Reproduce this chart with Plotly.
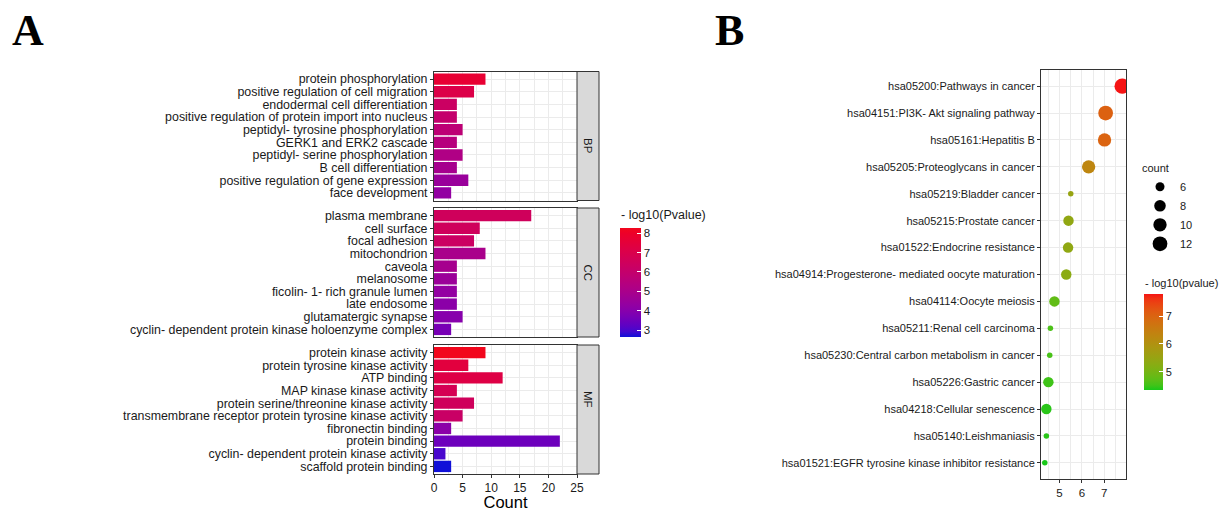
import math
import plotly.graph_objects as go

# ---------------- Panel A data (GO enrichment) ----------------
bp_terms = ["protein phosphorylation", "positive regulation of cell migration",
            "endodermal cell differentiation", "positive regulation of protein import into nucleus",
            "peptidyl- tyrosine phosphorylation", "GERK1 and ERK2 cascade",
            "peptidyl- serine phosphorylation", "B cell differentiation",
            "positive regulation of gene expression", "face development"]
bp_count = [9, 7, 4, 4, 5, 4, 5, 4, 6, 3]
bp_logp = [7.7, 7.1, 6.3, 6.0, 5.7, 5.45, 5.2, 4.9, 4.5, 4.3]

cc_terms = ["plasma membrane", "cell surface", "focal adhesion", "mitochondrion", "caveola",
            "melanosome", "ficolin- 1- rich granule lumen", "late endosome",
            "glutamatergic synapse", "cyclin- dependent protein kinase holoenzyme complex"]
cc_count = [17, 8, 7, 9, 4, 4, 4, 4, 5, 3]
cc_logp = [6.5, 6.5, 6.3, 5.0, 4.9, 4.55, 4.3, 4.1, 4.0, 3.7]

mf_terms = ["protein kinase activity", "protein tyrosine kinase activity", "ATP binding",
            "MAP kinase kinase activity", "protein serine/threonine kinase activity",
            "transmembrane receptor protein tyrosine kinase activity", "fibronectin binding",
            "protein binding", "cyclin- dependent protein kinase activity", "scaffold protein binding"]
mf_count = [9, 6, 12, 4, 7, 5, 3, 22, 2, 3]
mf_logp = [8.26, 7.4, 7.2, 6.75, 6.5, 6.2, 4.1, 3.5, 3.0, 2.65]

facet_names = ["BP", "CC", "MF"]
count_ticks = [0, 5, 10, 15, 20, 25]
pval_ticks_a = [3, 4, 5, 6, 7, 8]

# ---------------- Panel B data (KEGG) ----------------
kegg_terms = ["hsa05200:Pathways in cancer", "hsa04151:PI3K- Akt signaling pathway",
              "hsa05161:Hepatitis B", "hsa05205:Proteoglycans in cancer",
              "hsa05219:Bladder cancer", "hsa05215:Prostate cancer",
              "hsa01522:Endocrine resistance", "hsa04914:Progesterone- mediated oocyte maturation",
              "hsa04114:Oocyte meiosis", "hsa05211:Renal cell carcinoma",
              "hsa05230:Central carbon metabolism in cancer", "hsa05226:Gastric cancer",
              "hsa04218:Cellular senescence", "hsa05140:Leishmaniasis",
              "hsa01521:EGFR tyrosine kinase inhibitor resistance"]
kegg_count = [13, 12, 10, 10, 5, 7, 7, 7, 7, 5, 5, 7, 7, 5, 5]
kegg_logp = [7.8, 7.06, 7.01, 6.3, 5.5, 5.4, 5.38, 5.3, 4.77, 4.59, 4.56, 4.5, 4.41, 4.41, 4.34]
size_breaks = [6, 8, 10, 12]
pval_ticks_b = [5, 6, 7]

W, H = 1220, 511
FONT = "Liberation Sans, Arial, sans-serif"
TXT = "#1A1A1A"


def px_x(v):
    return v / W


def px_y(v):
    return 1 - v / H


# ---- Lab colour interpolation (like ggplot's gradient) ----
def _srgb_to_lin(c):
    c = c / 255
    return c / 12.92 if c <= 0.04045 else ((c + 0.055) / 1.055) ** 2.4


def _lin_to_srgb(c):
    c = max(0.0, min(1.0, c))
    v = 12.92 * c if c <= 0.0031308 else 1.055 * c ** (1 / 2.4) - 0.055
    return int(round(max(0, min(1, v)) * 255))


def hex_to_lab(h):
    r, g, b = [_srgb_to_lin(int(h[i:i + 2], 16)) for i in (1, 3, 5)]
    X = (0.4124 * r + 0.3576 * g + 0.1805 * b) / 0.95047
    Y = (0.2126 * r + 0.7152 * g + 0.0722 * b)
    Z = (0.0193 * r + 0.1192 * g + 0.9505 * b) / 1.08883
    f = lambda t: t ** (1 / 3) if t > 0.008856 else 7.787 * t + 16 / 116
    fx, fy, fz = f(X), f(Y), f(Z)
    return 116 * fy - 16, 500 * (fx - fy), 200 * (fy - fz)


def lab_to_hex(L, a, b):
    fy = (L + 16) / 116
    fx = fy + a / 500
    fz = fy - b / 200
    finv = lambda t: t ** 3 if t ** 3 > 0.008856 else (t - 16 / 116) / 7.787
    X, Y, Z = finv(fx) * 0.95047, finv(fy), finv(fz) * 1.08883
    r = 3.2406 * X - 1.5372 * Y - 0.4986 * Z
    g = -0.9689 * X + 1.8758 * Y + 0.0415 * Z
    bb = 0.0557 * X - 0.2040 * Y + 1.0570 * Z
    return "#%02X%02X%02X" % (_lin_to_srgb(r), _lin_to_srgb(g), _lin_to_srgb(bb))


def lab_scale(lo, hi, n=21):
    l1, l2 = hex_to_lab(lo), hex_to_lab(hi)
    out = []
    for i in range(n):
        t = i / (n - 1)
        out.append([t, lab_to_hex(*[l1[k] + (l2[k] - l1[k]) * t for k in range(3)])])
    return out


def dot_diam(c):
    return 5.5 + 3.5 * math.sqrt(max(c - 5, 0))


fig = go.Figure()

# ---------------- Panel A ----------------
facets = [(bp_terms, bp_count, bp_logp), (cc_terms, cc_count, cc_logp), (mf_terms, mf_count, mf_logp)]
facet_px = [(71.5, 200.5), (208.0, 337.0), (345.0, 474.0)]
strip_x = (577, 599)
for i, (terms, counts, logp) in enumerate(facets):
    k = "" if i == 0 else str(i + 1)
    fig.add_trace(go.Bar(
        x=counts, y=terms, orientation="h", width=0.9,
        marker=dict(color=logp, coloraxis="coloraxis", line=dict(width=0)),
        xaxis="x" + k, yaxis="y" + k, showlegend=False,
    ))
    top, bot = facet_px[i]
    last = i == 2
    fig.update_layout(**{
        "xaxis" + k: dict(
            domain=[px_x(434), px_x(577)], anchor="y" + k, range=[0, 25],
            tickvals=count_ticks, showticklabels=last, ticks="outside" if last else "",
            ticklen=3, tickcolor="#333", tickfont=dict(size=12, color=TXT, family=FONT),
            showgrid=True, gridcolor="#EBEBEB", gridwidth=1.2,
            minor=dict(dtick=2.5, showgrid=True, gridcolor="#EBEBEB", gridwidth=0.6),
            showline=True, mirror=True, linecolor="#333", linewidth=1, zeroline=False,
            automargin=False,
            title=dict(text="Count" if last else "", font=dict(size=16.5, color="#000", family=FONT), standoff=5),
        ),
        "yaxis" + k: dict(
            domain=[px_y(bot), px_y(top)], anchor="x" + k, type="category",
            categoryorder="array", categoryarray=terms, range=[9.6, -0.6],
            tickmode="array", tickvals=terms, ticktext=terms,
            ticks="outside", ticklen=3, tickcolor="#333",
            tickfont=dict(size=12.4, color=TXT, family=FONT),
            showgrid=True, gridcolor="#EBEBEB", gridwidth=1.2,
            showline=True, mirror=True, linecolor="#333", linewidth=1, automargin=False,
        ),
    })
    fig.add_shape(type="rect", xref="paper", yref="paper",
                  x0=px_x(strip_x[0]), x1=px_x(strip_x[1]), y0=px_y(bot), y1=px_y(top),
                  fillcolor="#D9D9D9", line=dict(color="#333", width=1), layer="above")
    fig.add_annotation(text=facet_names[i], xref="paper", yref="paper",
                       x=px_x((strip_x[0] + strip_x[1]) / 2), y=px_y((top + bot) / 2),
                       textangle=90, showarrow=False,
                       font=dict(size=11.5, color=TXT, family=FONT))

# ---------------- Panel B ----------------
fig.add_trace(go.Scatter(
    x=kegg_logp, y=kegg_terms, mode="markers", xaxis="x4", yaxis="y4",
    marker=dict(size=[dot_diam(c) for c in kegg_count], color=kegg_logp,
                coloraxis="coloraxis2", line=dict(width=0), opacity=1),
    showlegend=False, cliponaxis=True,
))
for s in size_breaks:
    fig.add_trace(go.Scatter(
        x=[None], y=[None], mode="markers", xaxis="x4", yaxis="y4", name=str(s),
        marker=dict(size=dot_diam(s), color="black", line=dict(width=0)),
        showlegend=True, legendgroup=str(s),
    ))

fig.update_layout(
    xaxis4=dict(domain=[px_x(1041), px_x(1126)], anchor="y4", range=[4.17, 7.97],
                tickvals=pval_ticks_b, ticks="outside", ticklen=3, tickcolor="#333",
                tickfont=dict(size=11.5, color=TXT, family=FONT),
                showgrid=True, gridcolor="#EBEBEB", gridwidth=1.2,
                minor=dict(dtick=0.5, showgrid=True, gridcolor="#EBEBEB", gridwidth=0.6),
                showline=True, mirror=True, linecolor="#333", linewidth=1, zeroline=False,
                automargin=False),
    yaxis4=dict(domain=[px_y(479), px_y(70)], anchor="x4", type="category",
                categoryorder="array", categoryarray=kegg_terms, range=[14.6, -0.6],
                tickmode="array", tickvals=kegg_terms, ticktext=kegg_terms,
                ticks="outside", ticklen=3, tickcolor="#333",
                tickfont=dict(size=11, color=TXT, family=FONT),
                showgrid=True, gridcolor="#EBEBEB", gridwidth=1.2,
                showline=True, mirror=True, linecolor="#333", linewidth=1, automargin=False),
)

# ---------------- Colour axes ----------------
fig.update_layout(
    coloraxis=dict(
        cmin=2.65, cmax=8.26, colorscale=lab_scale("#1010D8", "#F2061C"),
        colorbar=dict(xref="container", yref="container",
                      x=px_x(620), xanchor="left", y=px_y(337), yanchor="bottom",
                      len=109, lenmode="pixels", thickness=21, thicknessmode="pixels",
                      xpad=0, ypad=0, outlinewidth=0, tickvals=pval_ticks_a,
                      ticks="inside", tickcolor="white", ticklen=4, tickwidth=1,
                      tickfont=dict(size=11.5, color=TXT, family=FONT)),
    ),
    coloraxis2=dict(
        cmin=4.34, cmax=7.8, colorscale=lab_scale("#19C819", "#F51414"),
        colorbar=dict(xref="container", yref="container",
                      x=px_x(1144), xanchor="left", y=px_y(390), yanchor="bottom",
                      len=96, lenmode="pixels", thickness=19, thicknessmode="pixels",
                      xpad=0, ypad=0, outlinewidth=0, tickvals=pval_ticks_b,
                      ticks="inside", tickcolor="white", ticklen=4, tickwidth=1,
                      tickfont=dict(size=11, color=TXT, family=FONT)),
    ),
)

# Legend titles and panel letters
fig.add_annotation(text="- log10(Pvalue)", xref="paper", yref="paper", x=px_x(619), y=px_y(215),
                   xanchor="left", yanchor="middle", showarrow=False,
                   font=dict(size=12.5, color=TXT, family=FONT))
fig.add_annotation(text="- log10(pvalue)", xref="paper", yref="paper", x=px_x(1143), y=px_y(283),
                   xanchor="left", yanchor="middle", showarrow=False,
                   font=dict(size=11, color=TXT, family=FONT))
fig.add_annotation(text="<b>A</b>", xref="paper", yref="paper", x=px_x(10), y=px_y(30),
                   xanchor="left", yanchor="middle", showarrow=False,
                   font=dict(size=44, color="#000", family="Liberation Serif, Times New Roman, serif"))
fig.add_annotation(text="<b>B</b>", xref="paper", yref="paper", x=px_x(713), y=px_y(30),
                   xanchor="left", yanchor="middle", showarrow=False,
                   font=dict(size=44, color="#000", family="Liberation Serif, Times New Roman, serif"))

fig.update_layout(
    width=W, height=H, margin=dict(l=0, r=0, t=0, b=0, autoexpand=False),
    paper_bgcolor="white", plot_bgcolor="white", bargap=0.1,
    font=dict(family=FONT, color=TXT),
    legend=dict(xref="container", yref="container",
                x=px_x(1140), y=px_y(158), xanchor="left", yanchor="top",
                title=dict(text="count", font=dict(size=11, color=TXT, family=FONT)),
                font=dict(size=11, color=TXT, family=FONT), bgcolor="rgba(0,0,0,0)",
                itemsizing="trace", tracegroupgap=2, traceorder="normal"),
)

fig.write_html("out.html", config={"displayModeBar": False},
               post_script="document.body.style.margin='0';document.body.style.overflow='hidden';")
